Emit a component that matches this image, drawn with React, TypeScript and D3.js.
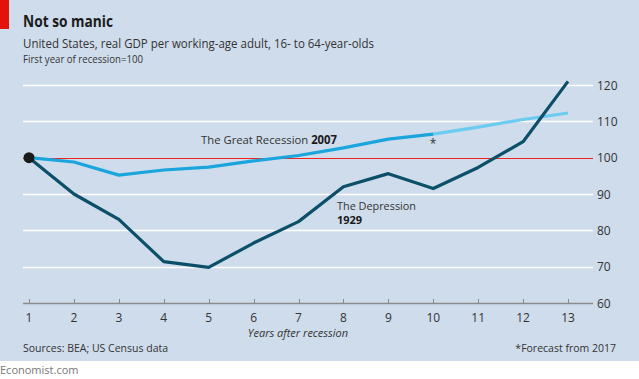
import React from "react";
import * as d3 from "d3";

const years = [1, 2, 3, 4, 5, 6, 7, 8, 9, 10, 11, 12, 13];
const depression = [100, 90, 83, 71.4, 69.8, 76.5, 82.4, 92, 95.6, 91.5, 97.3, 104.4, 121];
const greatRecession = [100, 98.8, 95.2, 96.6, 97.4, 99.1, 100.6, 102.7, 105.1, 106.5];
const forecastYears = [10, 11, 12, 13];
const forecast = [106.5, 108.4, 110.5, 112.3];
const yTicks = [60, 70, 80, 90, 100, 110, 120];

const W = 639;
const H = 379;
const FONT = "'Open Sans', 'Noto Sans', sans-serif";

export default function App() {
  const x = d3.scaleLinear().domain([1, 13]).range([29, 568]);
  const y = d3.scaleLinear().domain([60, 120]).range([303, 85]);
  const line = d3
    .line<[number, number]>()
    .x((d) => x(d[0]))
    .y((d) => y(d[1]));
  const crisp = (v: number) => Math.round(v) + 0.5;

  const depPts = years.map((yr, i) => [yr, depression[i]] as [number, number]);
  const grPts = greatRecession.map((v, i) => [years[i], v] as [number, number]);
  const fcPts = forecastYears.map((yr, i) => [yr, forecast[i]] as [number, number]);

  return (
    <svg
      width={W}
      height={H}
      style={{ position: "absolute", left: 0, top: 0, display: "block" }}
      fontFamily={FONT}
    >
      <rect x={0} y={0} width={W} height={H} fill="#ffffff" />
      <rect x={0} y={0} width={W} height={361} fill="#cfdcec" />
      <rect x={0} y={0} width={9} height={29} fill="#e3120b" />

      <text x={23} y={27} fontSize={15.5} fontWeight="bold" fill="#1a1a1a" textLength={90} lengthAdjust="spacingAndGlyphs">
        Not so manic
      </text>
      <text x={23} y={48} fontSize={12} fill="#333" textLength={351} lengthAdjust="spacingAndGlyphs">
        United States, real GDP per working-age adult, 16- to 64-year-olds
      </text>
      <text x={23} y={63} fontSize={10} fill="#333" textLength={120} lengthAdjust="spacingAndGlyphs">
        First year of recession=100
      </text>

      {yTicks.filter((t) => t !== 60 && t !== 100).map((t) => (
        <line key={t} x1={23} x2={593} y1={crisp(y(t))} y2={crisp(y(t))} stroke="#ffffff" strokeWidth={1.5} />
      ))}
      <line x1={23} x2={593} y1={crisp(y(100))} y2={crisp(y(100))} stroke="#f2231a" strokeWidth={1} />
      <line x1={23} x2={593} y1={crisp(y(60))} y2={crisp(y(60))} stroke="#8c8c8c" strokeWidth={1.5} />
      {years.map((yr) => (
        <line key={yr} x1={crisp(x(yr))} x2={crisp(x(yr))} y1={y(60)} y2={y(60) - 4} stroke="#8c8c8c" strokeWidth={1} />
      ))}
      {yTicks.map((t) => (
        <text key={t} x={597} y={y(t) + 4.5} fontSize={12} fill="#333">
          {t}
        </text>
      ))}
      {years.map((yr) => (
        <text key={yr} x={x(yr)} y={322} fontSize={12} fill="#333" textAnchor="middle">
          {yr}
        </text>
      ))}
      <text x={298} y={337} fontSize={11} fontStyle="italic" fill="#333" textAnchor="middle">
        Years after recession
      </text>

      <path d={line(fcPts) ?? ""} fill="none" stroke="#6ccbf0" strokeWidth={3.2} strokeLinejoin="round" />
      <path d={line(grPts) ?? ""} fill="none" stroke="#1aa5dc" strokeWidth={3.2} strokeLinejoin="round" />
      <path d={line(depPts) ?? ""} fill="none" stroke="#0c4f68" strokeWidth={3.2} strokeLinejoin="round" />
      <circle cx={x(1)} cy={y(100)} r={5.5} fill="#1a1a1a" />

      <text x={201} y={144} fontSize={11.5} fill="#333" textLength={136} lengthAdjust="spacingAndGlyphs">
        The Great Recession <tspan fontWeight="bold" fill="#1a1a1a">2007</tspan>
      </text>
      <text x={433} y={148} fontSize={12} fill="#333" textAnchor="middle">*</text>
      <text x={337} y={209.5} fontSize={11} fill="#333" textLength={79} lengthAdjust="spacingAndGlyphs">The Depression</text>
      <text x={337} y={224} fontSize={11} fontWeight="bold" fill="#1a1a1a">1929</text>

      <text x={23} y={352} fontSize={10.5} fill="#333">Sources: BEA; US Census data</text>
      <text x={616} y={352} fontSize={10.5} fill="#333" textAnchor="end">*Forecast from 2017</text>
      <text x={0} y={374} fontSize={11} fill="#777">Economist.com</text>
    </svg>
  );
}
